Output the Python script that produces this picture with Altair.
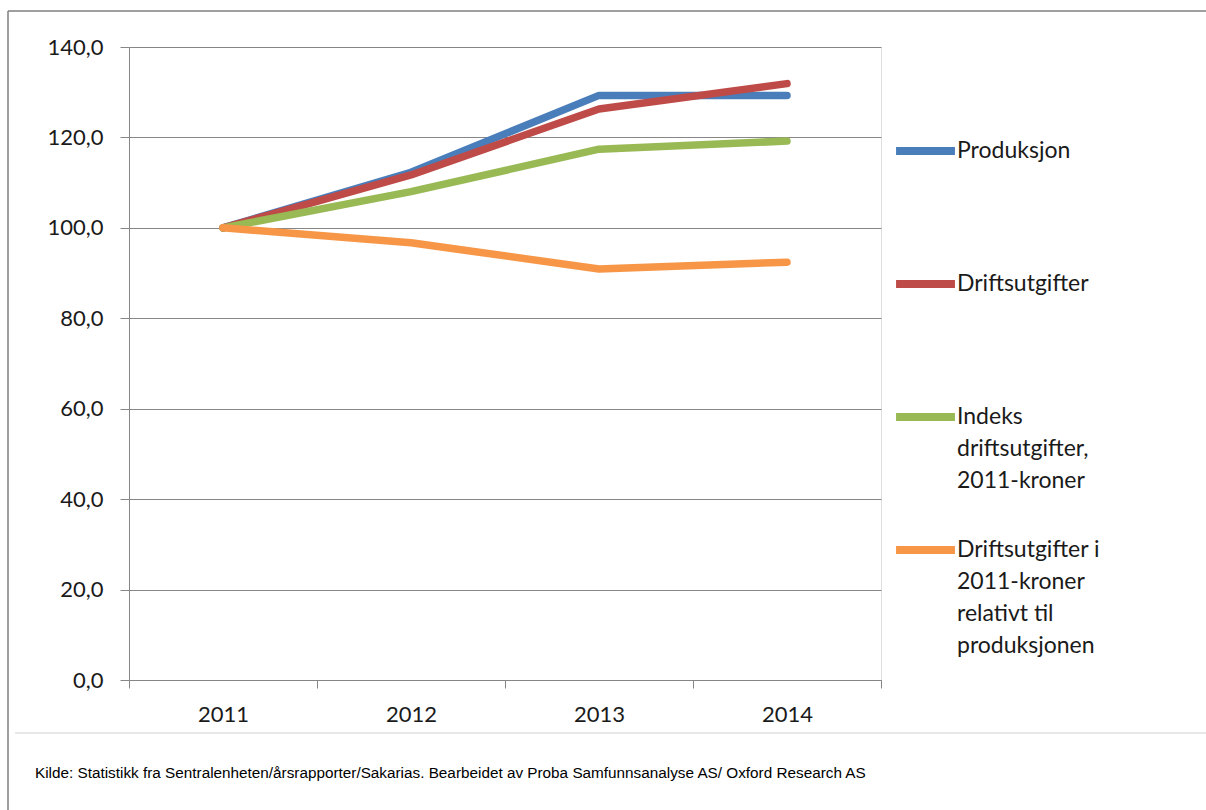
import altair as alt
import pandas as pd

years = ["2011", "2012", "2013", "2014"]
series = [
    "Produksjon",
    "Driftsutgifter",
    "Indeks|driftsutgifter,|2011-kroner",
    "Driftsutgifter i|2011-kroner|relativt til|produksjonen",
]
produksjon = [100.0, 112.3, 129.3, 129.3]
driftsutgifter = [100.0, 111.7, 126.3, 131.9]
indeks = [100.0, 108.0, 117.4, 119.2]
relativ = [100.0, 96.7, 90.9, 92.4]
colors = ["#4A7EBB", "#BE4B48", "#98B954", "#F79646"]
y_ticks = [0, 20, 40, 60, 80, 100, 120, 140]
footnote = ("Kilde: Statistikk fra Sentralenheten/årsrapporter/Sakarias. "
            "Bearbeidet av Proba Samfunnsanalyse AS/ Oxford Research AS")

rows = []
for name, vals in zip(series, [produksjon, driftsutgifter, indeks, relativ]):
    for y, v in zip(years, vals):
        rows.append({"year": y, "series": name, "value": v})
df = pd.DataFrame(rows)

FONT = "Lato"
GRAY = "#868686"
TXT = "#1a1a1a"

lines = alt.Chart(df).mark_line(
    strokeWidth=7.5, strokeCap="round", strokeJoin="round"
).encode(
    x=alt.X(
        "year:O",
        bandPosition=0.5,
        scale=alt.Scale(type="band", paddingInner=0, paddingOuter=0),
        axis=alt.Axis(
            title=None, labelAngle=0, tickBand="extent", tickSize=8,
            labelPadding=16, labelFontSize=22, labelFont=FONT,
            labelColor=TXT, domainColor=GRAY, tickColor=GRAY,
            grid=False,
        ),
    ),
    y=alt.Y(
        "value:Q",
        scale=alt.Scale(domain=[0, 140]),
        axis=alt.Axis(
            title=None, values=y_ticks,
            labelExpr="replace(format(datum.value, '.1f'), '.', ',')",
            tickSize=9, labelPadding=17, labelFontSize=22, labelFont=FONT,
            labelColor=TXT, domainColor=GRAY, tickColor=GRAY,
            grid=True, gridColor=GRAY, gridWidth=1,
        ),
    ),
    color=alt.Color(
        "series:N",
        sort=series,
        scale=alt.Scale(domain=series, range=colors),
        legend=alt.Legend(
            title=None, orient="none", legendX=783, legendY=79,
            symbolType="M-3.1,1.21L3.1,1.21", symbolSize=361,
            symbolStrokeWidth=8,
            labelExpr="split(datum.label, '|')",
            labelFont=FONT, labelFontSize=23, labelColor=TXT,
            labelLimit=400, labelOffset=18, labelBaseline="top",
            gridAlign="all", rowPadding=0, padding=0,
        ),
    ),
)

frame_left = alt.Chart(pd.DataFrame({"k": [0]})).mark_rule(
    color="#7f7f7f", strokeWidth=1.5
).encode(x=alt.value(-121), y=alt.value(-36), y2=alt.value(770))

frame_top = alt.Chart(pd.DataFrame({"k": [0]})).mark_rule(
    color="#7f7f7f", strokeWidth=1.5
).encode(x=alt.value(-121), x2=alt.value(1090), y=alt.value(-36))

separator = alt.Chart(pd.DataFrame({"k": [0]})).mark_rule(
    color="#d0d0d0", strokeWidth=1
).encode(x=alt.value(-114), x2=alt.value(1090), y=alt.value(686))

note = alt.Chart(pd.DataFrame({"t": [footnote]})).mark_text(
    align="left", baseline="middle", font="Liberation Sans", fontSize=15.3,
    color="#000000"
).encode(x=alt.value(-94), y=alt.value(726), text="t:N")

chart = alt.layer(frame_left, frame_top, separator, note, lines).properties(
    width=752, height=633,
    autosize=alt.AutoSizeParams(type="none"),
    padding={"left": 129, "top": 47, "right": 325, "bottom": 130},
).configure_view(stroke=None).configure(
    style={"guide-label": {"lineHeight": 32}}
)

chart.save("out.html", embed_options={"renderer": "svg", "actions": False})
